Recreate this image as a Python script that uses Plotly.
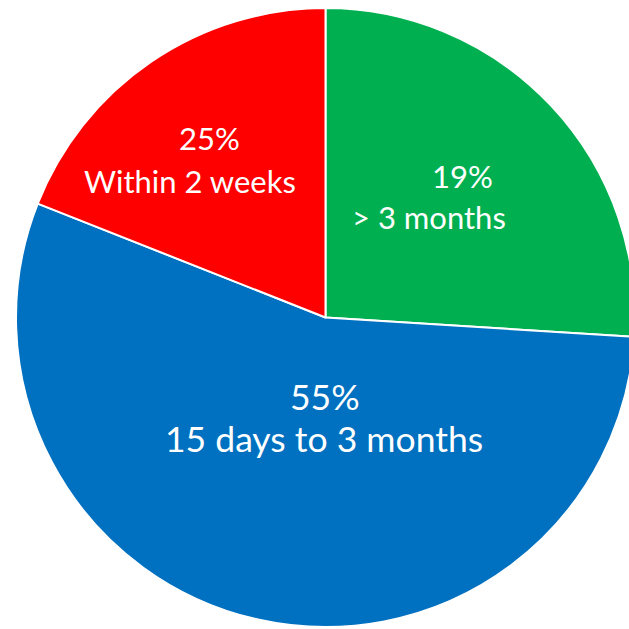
import plotly.graph_objects as go

# Data
categories = ["> 3 months", "15 days to 3 months", "Within 2 weeks"]
slice_values = [26, 55, 19]             # angular share as drawn
label_percents = ["19%", "55%", "25%"]  # percentages printed on the chart
colors = ["#00B050", "#0070C0", "#FF0000"]

W, H = 651, 635

fig = go.Figure(
    go.Pie(
        labels=categories,
        values=slice_values,
        textinfo="none",
        sort=False,
        direction="clockwise",
        rotation=0,
        marker=dict(colors=colors, line=dict(color="white", width=2)),
        hoverinfo="skip",
        showlegend=False,
        domain=dict(x=[0, 1], y=[0.0126, 0.9874]),
    )
)

# label placement (pixel positions of each text line, layout only)
label_layout = [
    dict(pct=(463, 176), name=(429, 217), size=31),
    dict(pct=(325, 396), name=(323.5, 438), size=35.5),
    dict(pct=(209, 138), name=(190, 181), size=31),
]

annotations = []
for pct, cat, lay in zip(label_percents, categories, label_layout):
    for txt, (px, py) in ((pct, lay["pct"]), (cat, lay["name"])):
        annotations.append(
            dict(
                text=txt,
                x=px / W,
                y=1 - py / H,
                xref="paper",
                yref="paper",
                xanchor="center",
                yanchor="middle",
                showarrow=False,
                font=dict(family="Lato", size=lay["size"], color="white"),
            )
        )

fig.update_layout(
    width=W,
    height=H,
    margin=dict(l=0, r=0, t=0, b=0),
    paper_bgcolor="white",
    plot_bgcolor="white",
    showlegend=False,
    annotations=annotations,
)

fig.write_html(
    "out.html",
    config={"displayModeBar": False},
    post_script=(
        "document.documentElement.style.overflow='hidden';"
        "document.body.style.overflow='hidden';"
        "document.body.style.margin='0';"
    ),
)
